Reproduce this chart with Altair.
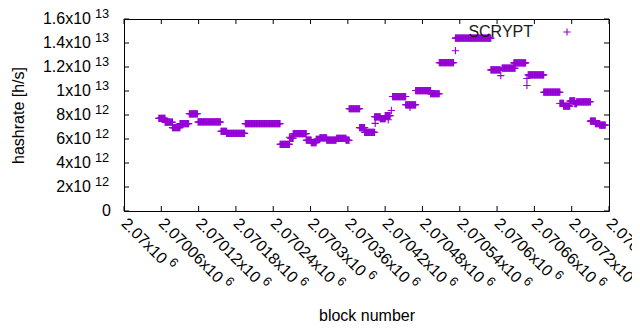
import altair as alt
import pandas as pd

# constant-hashrate runs: first block, last block, hashrate (x1e12 h/s)
run_start = [2070056, 2070066, 2070078, 2070090, 2070105, 2070119, 2070156, 2070165,
             2070195, 2070251, 2070268, 2070272, 2070293, 2070301, 2070309, 2070315,
             2070326, 2070342, 2070357, 2070362, 2070379, 2070387, 2070403, 2070412,
             2070420, 2070432, 2070453, 2070469, 2070493, 2070507, 2070533, 2070590,
             2070608, 2070627, 2070650, 2070675, 2070701, 2070707, 2070717, 2070725,
             2070728, 2070750, 2070758, 2070765]
run_end = [2070066, 2070078, 2070090, 2070104, 2070118, 2070155, 2070165, 2070194,
           2070251, 2070266, 2070272, 2070293, 2070301, 2070309, 2070315, 2070326,
           2070341, 2070357, 2070362, 2070379, 2070387, 2070403, 2070412, 2070420,
           2070428, 2070453, 2070469, 2070493, 2070507, 2070530, 2070590, 2070605,
           2070629, 2070646, 2070675, 2070701, 2070707, 2070717, 2070725, 2070728,
           2070750, 2070758, 2070765, 2070774]
run_value = [7.72, 7.40, 6.95, 7.28, 8.10, 7.42, 6.64, 6.47,
             7.28, 5.56, 6.06, 6.45, 5.90, 5.70, 5.98, 6.10,
             5.90, 6.05, 5.90, 8.52, 6.95, 6.56, 7.85, 7.70,
             7.95, 9.54, 8.85, 10.04, 9.77, 12.36, 14.41, 11.76,
             11.90, 12.34, 11.34, 9.90, 8.96, 8.74, 9.17, 8.95,
             9.10, 7.49, 7.28, 7.16]

# isolated blocks (x1e12 h/s)
single_block = [2070266, 2070404, 2070425, 2070430, 2070460, 2070533, 2070606, 2070648, 2070648]
single_value = [6.14, 7.30, 7.60, 8.38, 8.63, 13.36, 11.28, 10.46, 11.04]

x_ticks = [2070000, 2070060, 2070120, 2070180, 2070240, 2070300, 2070360,
           2070420, 2070480, 2070540, 2070600, 2070660, 2070720, 2070780]
x_tick_main = ["2.07x10", "2.07006x10", "2.07012x10", "2.07018x10", "2.07024x10",
               "2.0703x10", "2.07036x10", "2.07042x10", "2.07048x10", "2.07054x10",
               "2.0706x10", "2.07066x10", "2.07072x10", "2.07078x10"]
x_tick_sup = ["6"] * 14
y_ticks = [0, 2e12, 4e12, 6e12, 8e12, 1e13, 1.2e13, 1.4e13, 1.6e13]
y_tick_main = ["0", "2x10", "4x10", "6x10", "8x10", "1x10", "1.2x10", "1.4x10", "1.6x10"]
y_tick_sup = ["", "12", "12", "12", "12", "13", "13", "13", "13"]

legend_label = "SCRYPT"
x_title = "block number"
y_title = "hashrate [h/s]"

COLOR = "#9400d3"
FONT = "Liberation Sans"
FS = 16
FS_SUP = 12.8
SUP_DY = -5.5
W, H = 485, 192
PLUS = "M-1,0L1,0M0,-1L0,1"
ADV = {c: 0.556 for c in "0123456789"}
ADV.update({".": 0.278, "x": 0.5})


def text_width(s, fs):
    return sum(ADV[c] for c in s) * fs


rows = []
for s, e, v in zip(run_start, run_end, run_value):
    for b in range(s, e + 1):
        rows.append({"block": b, "hashrate": v * 1e12})
for b, v in zip(single_block, single_value):
    rows.append({"block": b, "hashrate": v * 1e12})
df = pd.DataFrame(rows)

xscale = alt.Scale(domain=[x_ticks[0], x_ticks[-1]], nice=False, zero=False)
yscale = alt.Scale(domain=[y_ticks[0], y_ticks[-1]], nice=False)

xaxis = alt.Axis(
    labels=False, ticks=False, domain=False, grid=False,
    title=x_title, titleFont=FONT, titleFontSize=FS, titleFontWeight="normal",
    titleColor="black", titleX=W / 2, titleY=109, titleBaseline="alphabetic", titleAlign="center")
yaxis = alt.Axis(
    labels=False, ticks=False, domain=False, grid=False,
    title=y_title, titleFont=FONT, titleFontSize=FS, titleFontWeight="normal",
    titleColor="black", titleX=-106, titleY=H / 2, titleAngle=270,
    titleBaseline="middle", titleAlign="center")

X = alt.X("block:Q", scale=xscale, axis=xaxis)
Y = alt.Y("hashrate:Q", scale=yscale, axis=yaxis)

points = alt.Chart(df).mark_point(
    shape=PLUS, size=52, filled=False, strokeWidth=1.1, color=COLOR, opacity=1
).encode(x=X, y=Y)

ydf = pd.DataFrame({"hashrate": y_ticks, "main": y_tick_main, "sup": y_tick_sup})
xdf = pd.DataFrame({"block": x_ticks, "main": x_tick_main, "sup": x_tick_sup})

rule = dict(color="black", strokeWidth=1)
yt_left = alt.Chart(ydf).mark_rule(**rule).encode(y=Y, x=alt.value(0), x2=alt.value(5))
yt_right = alt.Chart(ydf).mark_rule(**rule).encode(y=Y, x=alt.value(W - 5), x2=alt.value(W))
xt_bottom = alt.Chart(xdf).mark_rule(**rule).encode(x=X, y=alt.value(H - 5), y2=alt.value(H))
xt_top = alt.Chart(xdf).mark_rule(**rule).encode(x=X, y=alt.value(0), y2=alt.value(5))

txt = dict(font=FONT, color="black")

# y tick labels: mantissa right-aligned, exponent as superscript
y_main = alt.Chart(ydf).mark_text(align="right", baseline="middle", fontSize=FS, **txt).encode(
    y=Y, x=alt.value(-33), text="main:N").transform_filter("datum.sup != ''")
y_zero = alt.Chart(ydf).mark_text(align="right", baseline="middle", fontSize=FS, **txt).encode(
    y=Y, x=alt.value(-13), text="main:N").transform_filter("datum.sup == ''")
y_sup = alt.Chart(ydf).mark_text(align="left", baseline="middle", fontSize=FS_SUP, dy=SUP_DY,
                                 **txt).encode(
    y=Y, x=alt.value(-29), text="sup:N").transform_filter("datum.sup != ''")

# x tick labels rotated 45 degrees, superscript placed after each mantissa
LBL_Y = H + 10
x_main = alt.Chart(xdf).mark_text(align="left", baseline="middle", angle=45, fontSize=FS,
                                  **txt).encode(x=X, y=alt.value(LBL_Y), text="main:N")
x_sup_layers = []
widths = {}
for m in x_tick_main:
    widths.setdefault(round(text_width(m, FS), 2), []).append(m)
for w, mains in widths.items():
    x_sup_layers.append(
        alt.Chart(xdf).mark_text(align="left", baseline="middle", angle=45, fontSize=FS_SUP,
                                 dx=w + 4, dy=SUP_DY, **txt).encode(
            x=X, y=alt.value(LBL_Y), text="sup:N"
        ).transform_filter(alt.FieldOneOfPredicate(field="main", oneOf=mains))
    )

leg_df = pd.DataFrame({"t": [legend_label]})
leg_text = alt.Chart(leg_df).mark_text(
    align="right", baseline="middle", fontSize=FS, font=FONT, color="#1a1a1a"
).encode(x=alt.value(409), y=alt.value(13), text="t:N")
leg_pt = alt.Chart(leg_df).mark_point(
    shape=PLUS, size=52, filled=False, strokeWidth=1.1, color=COLOR, opacity=1
).encode(x=alt.value(443), y=alt.value(13))

chart = alt.layer(
    points, yt_left, yt_right, xt_bottom, xt_top, y_main, y_zero, y_sup, x_main,
    *x_sup_layers, leg_text, leg_pt
).properties(
    width=W, height=H,
    padding={"left": 116, "top": 11, "right": 23, "bottom": 111},
    autosize=alt.AutoSizeParams(type="none"),
    background="white",
).configure_view(stroke="black", strokeWidth=1)

chart.save("out.html", embed_options={"renderer": "svg", "actions": False})
